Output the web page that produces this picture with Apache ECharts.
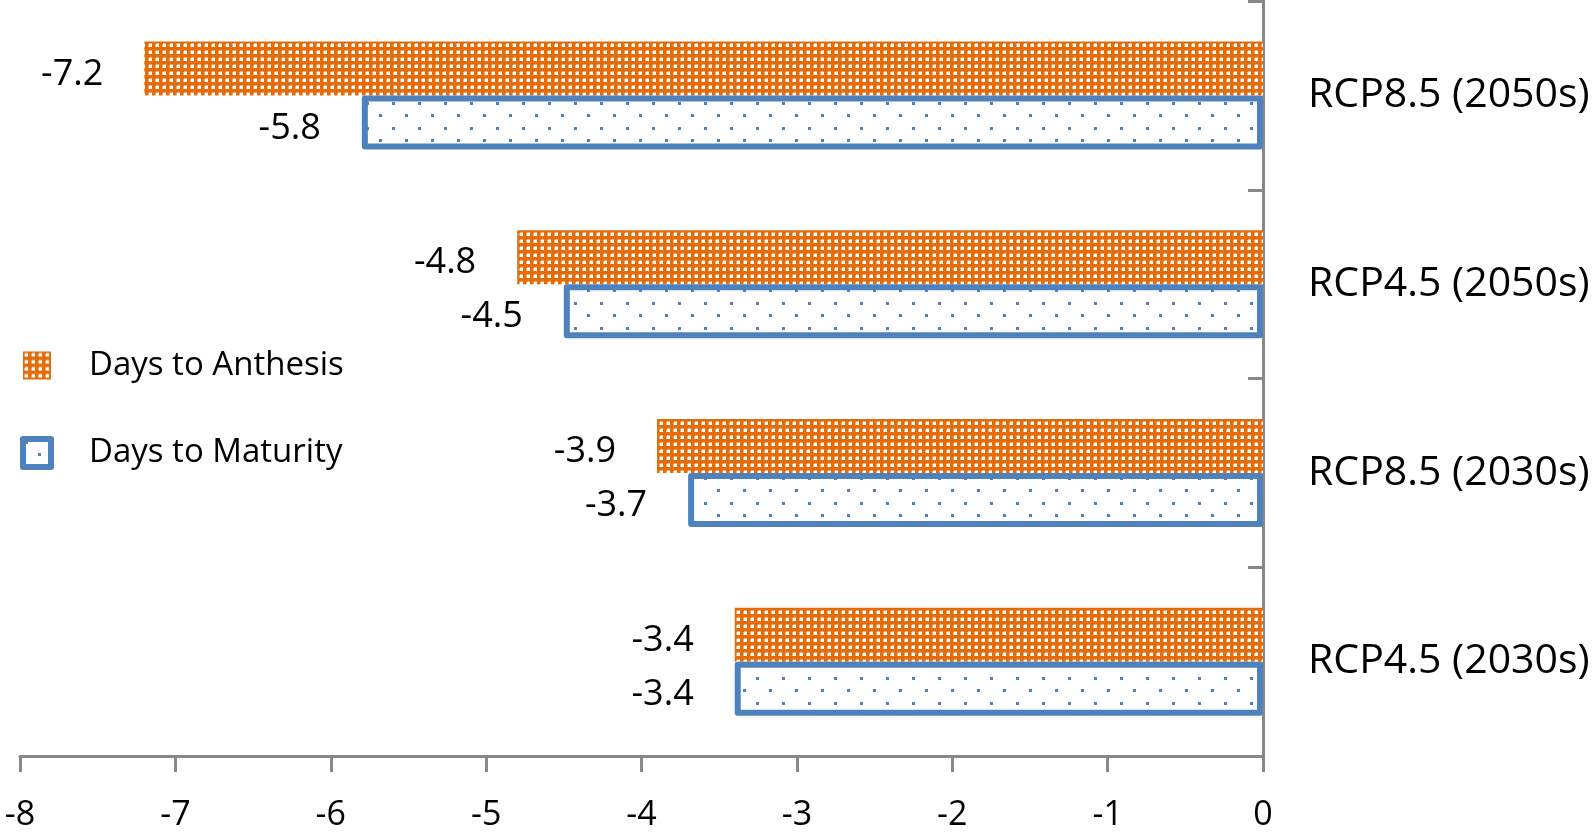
<!DOCTYPE html>
<html>
<head>
<meta charset="utf-8">
<script src="https://cdn.jsdelivr.net/npm/echarts@6/dist/echarts.min.js"></script>
<style>
html,body{margin:0;padding:0;background:#fff;}
#chart{width:1594px;height:837px;}
</style>
</head>
<body>
<div id="chart"></div>
<script>
// Data (top to bottom)
const categories = ['RCP8.5 (2050s)', 'RCP4.5 (2050s)', 'RCP8.5 (2030s)', 'RCP4.5 (2030s)'];
const seriesNames = ['Days to Anthesis', 'Days to Maturity'];
const anthesis = [-7.2, -4.8, -3.9, -3.4];
const maturity = [-5.8, -4.5, -3.7, -3.4];
const xTicks = { min: -8, max: 0, interval: 1 };

const ORANGE = '#E46C0A';
const BLUE = '#4F81BD';
const GRAY = '#878787';
const FONT = '"Open Sans", "Noto Sans", sans-serif';

function orangeTile() {
  const c = document.createElement('canvas');
  c.width = 7; c.height = 7;
  const g = c.getContext('2d');
  g.fillStyle = ORANGE; g.fillRect(0, 0, 7, 7);
  g.fillStyle = '#FFFFFF'; g.fillRect(2, 2, 3, 3);
  g.fillStyle = 'rgba(255,255,255,0.45)'; g.fillRect(1, 2, 1, 3); g.fillRect(2, 1, 3, 1);
  return c;
}
function blueTile() {
  const c = document.createElement('canvas');
  c.width = 26; c.height = 25;
  const g = c.getContext('2d');
  g.fillStyle = '#FFFFFF'; g.fillRect(0, 0, 26, 25);
  g.fillStyle = BLUE;
  g.fillRect(2, 2, 3, 3);
  g.fillRect(15, 14, 3, 3);
  return c;
}

const chart = echarts.init(document.getElementById('chart'), null, { renderer: 'canvas' });
const labelStyle = {
  show: true, position: 'left', distance: 41, offset: [0, 6],
  color: '#000', fontSize: 36, fontFamily: FONT,
  formatter: p => p.value.toFixed(1)
};

chart.setOption({
  animation: false,
  backgroundColor: '#fff',
  grid: { left: 20, right: 331, top: 1, bottom: 81, containLabel: false },
  legend: {
    orient: 'vertical', left: 20, top: 349, padding: 0,
    itemWidth: 28, itemHeight: 28, itemGap: 54,
    textStyle: { color: '#000', fontSize: 33, fontFamily: FONT, padding: [0, 0, 0, 33] },
    data: [
      { name: seriesNames[0], icon: 'rect' },
      { name: seriesNames[1], icon: 'rect', itemStyle: { borderWidth: 6, borderColor: BLUE } }
    ]
  },
  xAxis: {
    type: 'value', min: xTicks.min, max: xTicks.max, interval: xTicks.interval,
    splitLine: { show: false },
    axisLine: { show: true, onZero: false, lineStyle: { color: GRAY, width: 3 } },
    axisTick: { show: true, length: 16, lineStyle: { color: GRAY, width: 3 } },
    axisLabel: { color: '#000', fontSize: 34, fontFamily: FONT, margin: 42 }
  },
  yAxis: {
    type: 'category', data: categories, inverse: true, position: 'right',
    axisLine: { show: true, lineStyle: { color: GRAY, width: 3 } },
    axisTick: { show: true, inside: true, length: 15, lineStyle: { color: GRAY, width: 3 } },
    axisLabel: { color: '#000', fontSize: 41, fontFamily: FONT, margin: 45 }
  },
  series: [
    {
      name: seriesNames[0], type: 'bar', data: anthesis, barWidth: 54, barGap: '0%',
      itemStyle: { color: { image: orangeTile(), repeat: 'repeat' } },
      label: labelStyle
    },
    {
      name: seriesNames[1], type: 'bar', data: maturity, barWidth: 54, barGap: '0%',
      itemStyle: { color: { image: blueTile(), repeat: 'repeat' }, borderColor: BLUE, borderWidth: 6, borderJoin: 'round' },
      label: labelStyle
    }
  ]
});
</script>
</body>
</html>
